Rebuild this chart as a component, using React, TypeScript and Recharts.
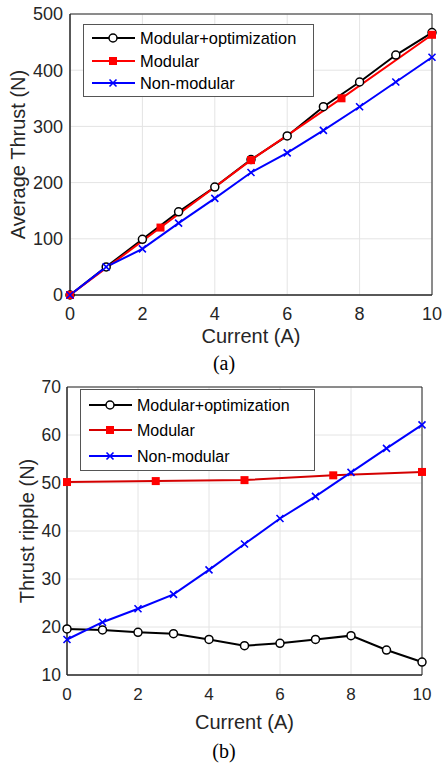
import React from "react";
import {
  LineChart, Line, XAxis, YAxis, CartesianGrid, ReferenceArea, Label,
} from "recharts";

// current (A) sample points
const currentA = [0, 1, 2, 3, 4, 5, 6, 7, 8, 9, 10];
const modularCurrentA = [0, 2.5, 5, 7.5, 10];

// (a) average thrust (N)
const thrustOpt = [0, 50, 99, 148, 192, 241, 283, 335, 379, 427, 467];
const thrustModular = [0, 120, 240, 350, 463];
const thrustNonModular = [0, 50, 82, 128, 172, 218, 253, 293, 335, 379, 423];

// (b) thrust ripple (N)
const rippleOpt = [19.6, 19.4, 18.9, 18.6, 17.4, 16.1, 16.6, 17.4, 18.2, 15.2, 12.7];
const rippleModular = [50.2, 50.4, 50.6, 51.6, 52.3];
const rippleNonModular = [17.4, 21.0, 23.8, 26.8, 31.9, 37.3, 42.6, 47.2, 52.2, 57.2, 62.1];

const xTicks = [0, 2, 4, 6, 8, 10];
const thrustTicks = [0, 100, 200, 300, 400, 500];
const rippleTicks = [10, 20, 30, 40, 50, 60, 70];
const legendLabels = ["Modular+optimization", "Modular", "Non-modular"];

const FONT = '"Liberation Sans", Arial, Helvetica, sans-serif';
const SERIF = '"Liberation Serif", "Times New Roman", serif';
const INK = "#262626";

type Part = [string, number[], number[]];

function buildRows(parts: Part[]) {
  const map = new Map<number, any>();
  parts.forEach(([key, xs, ys]) => {
    xs.forEach((x, i) => {
      const r = map.get(x) ?? { x };
      r[key] = ys[i];
      map.set(x, r);
    });
  });
  return [...map.values()].sort((a, b) => a.x - b.x);
}

const thrustRows = buildRows([
  ["opt", currentA, thrustOpt],
  ["mod", modularCurrentA, thrustModular],
  ["non", currentA, thrustNonModular],
]);

const rippleRows = buildRows([
  ["opt", currentA, rippleOpt],
  ["mod", modularCurrentA, rippleModular],
  ["non", currentA, rippleNonModular],
]);

const skip = (p: any) => p.cx == null || p.cy == null || p.value == null;

const CircleDot = (p: any) =>
  skip(p) ? <g key={p.key} /> : (
    <circle key={p.key} cx={p.cx} cy={p.cy} r={4} fill="#fff" stroke="#000" strokeWidth={1.5} />
  );

const SquareDot = (p: any) =>
  skip(p) ? <g key={p.key} /> : (
    <rect key={p.key} x={p.cx - 4} y={p.cy - 4} width={8} height={8} fill="#ff0000" />
  );

const CrossDot = (p: any) =>
  skip(p) ? <g key={p.key} /> : (
    <path
      key={p.key}
      d={`M${p.cx - 3.5},${p.cy - 3.5}L${p.cx + 3.5},${p.cy + 3.5}M${p.cx + 3.5},${p.cy - 3.5}L${p.cx - 3.5},${p.cy + 3.5}`}
      stroke="#0000ff"
      strokeWidth={1.6}
    />
  );

function yTitle(text: string, cx: number, fallbackY: number) {
  return (props: any) => {
    const vb = props.viewBox;
    const cy = vb && vb.height ? vb.y + vb.height / 2 : fallbackY;
    return (
      <text
        x={cx} y={cy}
        transform={`rotate(-90 ${cx} ${cy})`}
        textAnchor="middle" dominantBaseline="central"
        fontSize={20} fill={INK} fontFamily={FONT}
      >
        {text}
      </text>
    );
  };
}

function xTitle(text: string, cy: number, fallbackX: number) {
  return (props: any) => {
    const vb = props.viewBox;
    const cx = vb && vb.width ? vb.x + vb.width / 2 : fallbackX;
    return (
      <text x={cx} y={cy} textAnchor="middle" dominantBaseline="central" fontSize={20} fill={INK} fontFamily={FONT}>
        {text}
      </text>
    );
  };
}

function LegendBox({ left, top, width, height, rows, fontSize, modColor }: {
  left: number; top: number; width: number; height: number; rows: number[]; fontSize: number; modColor: string;
}) {
  const x0 = 9, x1 = 52, mx = 30, tx = 57;
  const colors = ["#000", modColor, "#0000ff"];
  const dots = [CircleDot, SquareDot, CrossDot];
  return (
    <svg style={{ position: "absolute", left, top }} width={width} height={height}>
      <rect x={0.5} y={0.5} width={width - 1} height={height - 1} fill="#fff" stroke="#555" strokeWidth={1} />
      {legendLabels.map((name, i) => {
        const Dot = dots[i];
        return (
          <g key={name}>
            <line x1={x0} x2={x1} y1={rows[i]} y2={rows[i]} stroke={colors[i]} strokeWidth={2} />
            {Dot({ cx: mx, cy: rows[i], value: 1, key: "d" + i })}
            <text x={tx} y={rows[i]} dominantBaseline="central" fontSize={fontSize} fill="#000" fontFamily={FONT}>
              {name}
            </text>
          </g>
        );
      })}
    </svg>
  );
}

function Caption({ text, top }: { text: string; top: number }) {
  return (
    <div style={{
      position: "absolute", left: 184, top, width: 80, textAlign: "center",
      fontFamily: SERIF, fontSize: 20, lineHeight: "20px", color: "#000",
    }}>
      {text}
    </div>
  );
}

export default function App() {
  return (
    <div style={{ position: "absolute", left: 0, top: 0, width: 442, height: 766, background: "#fff", overflow: "hidden" }}>
      <div style={{ position: "absolute", left: 0, top: 0 }}>
        <LineChart width={442} height={352} data={thrustRows} margin={{ top: 14, right: 10, left: 0, bottom: 0 }}>
          <CartesianGrid stroke="#e4e4e4" />
          <XAxis
            type="number" dataKey="x" domain={[0, 10]} ticks={xTicks} height={57}
            tickSize={0} tickMargin={12.5} tickLine={false}
            axisLine={{ stroke: INK }} tick={{ fontSize: 18, fill: INK, fontFamily: FONT }}
          >
            <Label content={xTitle("Current (A)", 336, 251)} />
          </XAxis>
          <YAxis
            type="number" domain={[0, 500]} ticks={thrustTicks} width={70}
            tickSize={0} tickMargin={7} tickLine={false}
            axisLine={{ stroke: INK }} tick={{ fontSize: 18, fill: INK, fontFamily: FONT }}
          >
            <Label content={yTitle("Average Thrust (N)", 18, 154.5)} />
          </YAxis>
          <ReferenceArea x1={0} x2={10} y1={0} y2={500} fill="none" fillOpacity={0} stroke={INK} strokeWidth={1} />
          <Line dataKey="opt" stroke="#000" strokeWidth={2} connectNulls dot={CircleDot} isAnimationActive={false} />
          <Line dataKey="mod" stroke="#ff0000" strokeWidth={2} connectNulls dot={SquareDot} isAnimationActive={false} />
          <Line dataKey="non" stroke="#0000ff" strokeWidth={2} connectNulls dot={CrossDot} isAnimationActive={false} />
        </LineChart>
      </div>
      <LegendBox left={83} top={24} width={231} height={73} rows={[14, 37, 59]} fontSize={16.4} modColor="#ff0000" />
      <Caption text="(a)" top={353} />

      <div style={{ position: "absolute", left: 0, top: 370 }}>
        <LineChart width={442} height={396} data={rippleRows} margin={{ top: 17, right: 20, left: 0, bottom: 0 }}>
          <CartesianGrid stroke="#e4e4e4" />
          <XAxis
            type="number" dataKey="x" domain={[0, 10]} ticks={xTicks} height={91}
            tickSize={0} tickMargin={13} tickLine={false}
            axisLine={{ stroke: INK }} tick={{ fontSize: 17, fill: INK, fontFamily: FONT }}
          >
            <Label content={xTitle("Current (A)", 722 - 370, 244.5)} />
          </XAxis>
          <YAxis
            type="number" domain={[10, 70]} ticks={rippleTicks} width={67}
            tickSize={0} tickMargin={6} tickLine={false}
            axisLine={{ stroke: INK }} tick={{ fontSize: 17.5, fill: INK, fontFamily: FONT }}
          >
            <Label content={yTitle("Thrust ripple (N)", 27, 161)} />
          </YAxis>
          <ReferenceArea x1={0} x2={10} y1={10} y2={70} fill="none" fillOpacity={0} stroke={INK} strokeWidth={1} />
          <Line dataKey="opt" stroke="#000" strokeWidth={2} connectNulls dot={CircleDot} isAnimationActive={false} />
          <Line dataKey="mod" stroke="#d40000" strokeWidth={2} connectNulls dot={SquareDot} isAnimationActive={false} />
          <Line dataKey="non" stroke="#0000ff" strokeWidth={2} connectNulls dot={CrossDot} isAnimationActive={false} />
        </LineChart>
      </div>
      <LegendBox left={80} top={389} width={235} height={82} rows={[16, 41, 67]} fontSize={16} modColor="#d40000" />
      <Caption text="(b)" top={741} />
    </div>
  );
}
